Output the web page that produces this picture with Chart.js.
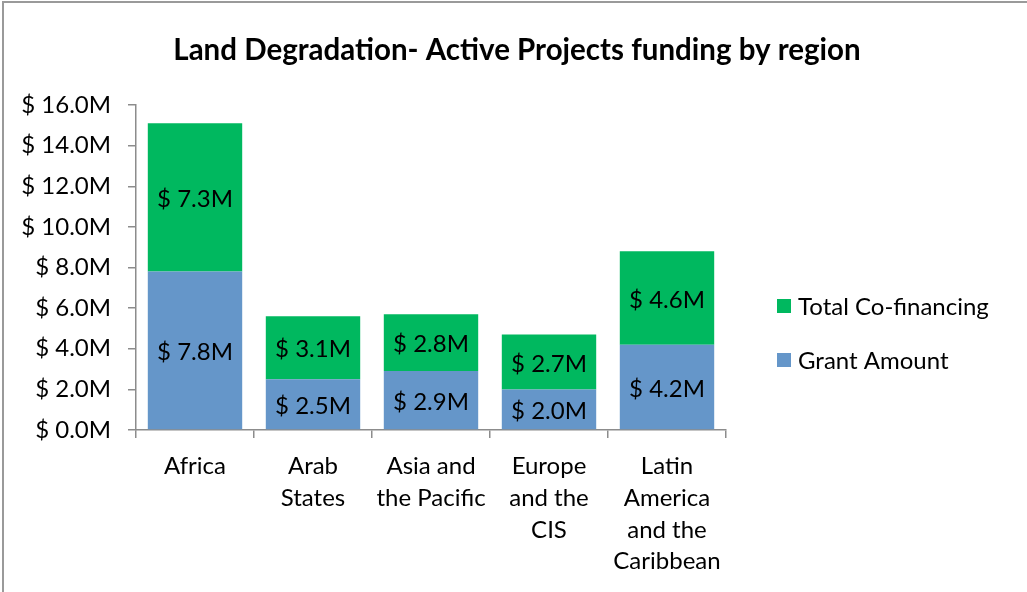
<!DOCTYPE html>
<html>
<head>
<meta charset="utf-8">
<script src="https://cdn.jsdelivr.net/npm/chart.js@4.4.1/dist/chart.umd.min.js"></script>
<style>
  html, body { margin: 0; padding: 0; background: #fff; }
  #wrap { position: relative; width: 1027px; height: 592px; }
</style>
</head>
<body>
<div id="wrap"><canvas id="c" width="1027" height="592"></canvas></div>
<script>
const chartTitle = 'Land Degradation- Active Projects funding by region';
const categories = [
  ['Africa'],
  ['Arab', 'States'],
  ['Asia and', 'the Pacific'],
  ['Europe', 'and the', 'CIS'],
  ['Latin', 'America', 'and the', 'Caribbean']
];
const grantAmount = [7.8, 2.5, 2.9, 2.0, 4.2];
const coFinancing = [7.3, 3.1, 2.8, 2.7, 4.6];
const seriesNames = ['Grant Amount', 'Total Co-financing'];
const seriesColors = ['#6596C9', '#00B85F'];
const yMin = 0, yMax = 16, yStep = 2;

const FONT = 'Lato, "Open Sans", sans-serif';
const AXIS = '#8c8c8c';

const fmt = v => '$ ' + Number(v).toFixed(1) + 'M';

const decorPlugin = {
  id: 'decor',
  beforeDraw(chart) {
    const ctx = chart.ctx;
    ctx.save();
    ctx.fillStyle = '#fff';
    ctx.fillRect(0, 0, chart.width, chart.height);
    ctx.fillStyle = '#9a9a9a';
    ctx.fillRect(2, 1, chart.width - 2, 2);
    ctx.fillRect(2, 1, 2, chart.height - 1);
    ctx.restore();
  },
  afterDraw(chart) {
    const ctx = chart.ctx;
    ctx.save();
    // title
    ctx.fillStyle = '#000';
    ctx.font = 'bold 29.5px ' + FONT;
    ctx.textAlign = 'center';
    ctx.textBaseline = 'middle';
    ctx.fillText(chartTitle, 517, 50);
    // legend (reverse order, like the stack)
    ctx.font = '24px ' + FONT;
    ctx.textAlign = 'left';
    const ds = chart.data.datasets;
    const ys = [306, 360];
    for (let i = 0; i < ds.length; i++) {
      const d = ds[ds.length - 1 - i];
      const y = ys[i];
      ctx.fillStyle = d.backgroundColor;
      ctx.fillRect(777, y - 7, 14, 14);
      ctx.fillStyle = '#000';
      ctx.fillText(d.label, 798, y + 1);
    }
    ctx.restore();
  },
  afterDatasetsDraw(chart) {
    const ctx = chart.ctx;
    ctx.save();
    ctx.fillStyle = '#000';
    ctx.font = '24px ' + FONT;
    ctx.textAlign = 'center';
    ctx.textBaseline = 'middle';
    chart.data.datasets.forEach((d, di) => {
      const meta = chart.getDatasetMeta(di);
      meta.data.forEach((el, i) => {
        const y = (el.y + el.base) / 2 + 2;
        ctx.fillText(fmt(d.data[i]), el.x, y);
      });
    });
    ctx.restore();
  }
};

new Chart(document.getElementById('c'), {
  type: 'bar',
  data: {
    labels: categories,
    datasets: [
      { label: seriesNames[0], data: grantAmount, backgroundColor: seriesColors[0], borderWidth: 0 },
      { label: seriesNames[1], data: coFinancing, backgroundColor: seriesColors[1], borderWidth: 0 }
    ]
  },
  options: {
    responsive: false,
    animation: false,
    devicePixelRatio: 1,
    layout: { padding: { left: 4, top: 105, right: 301, bottom: 0 } },
    plugins: {
      legend: { display: false },
      title: { display: false },
      tooltip: { enabled: false }
    },
    datasets: { bar: { categoryPercentage: 1.0, barPercentage: 0.8 } },
    scales: {
      x: {
        stacked: true,
        offset: true,
        grid: { offset: true, drawOnChartArea: false, drawTicks: true, tickLength: 8, color: AXIS, lineWidth: 1.5 },
        border: { display: true, color: AXIS, width: 1.5 },
        ticks: { color: '#000', font: { family: FONT, size: 24, lineHeight: 1.33 }, padding: 12, maxRotation: 0, autoSkip: false },
        afterFit: s => { s.height = 592 - 430; }
      },
      y: {
        stacked: true,
        min: yMin, max: yMax,
        grid: { drawOnChartArea: false, drawTicks: true, tickLength: 8, color: AXIS, lineWidth: 1.5 },
        border: { display: true, color: AXIS, width: 1.5 },
        ticks: { stepSize: yStep, color: '#000', font: { family: FONT, size: 24 }, padding: 17, callback: v => fmt(v) },
        afterFit: s => { s.width = 136 - 4; }
      }
    }
  },
  plugins: [decorPlugin]
});
</script>
</body>
</html>
